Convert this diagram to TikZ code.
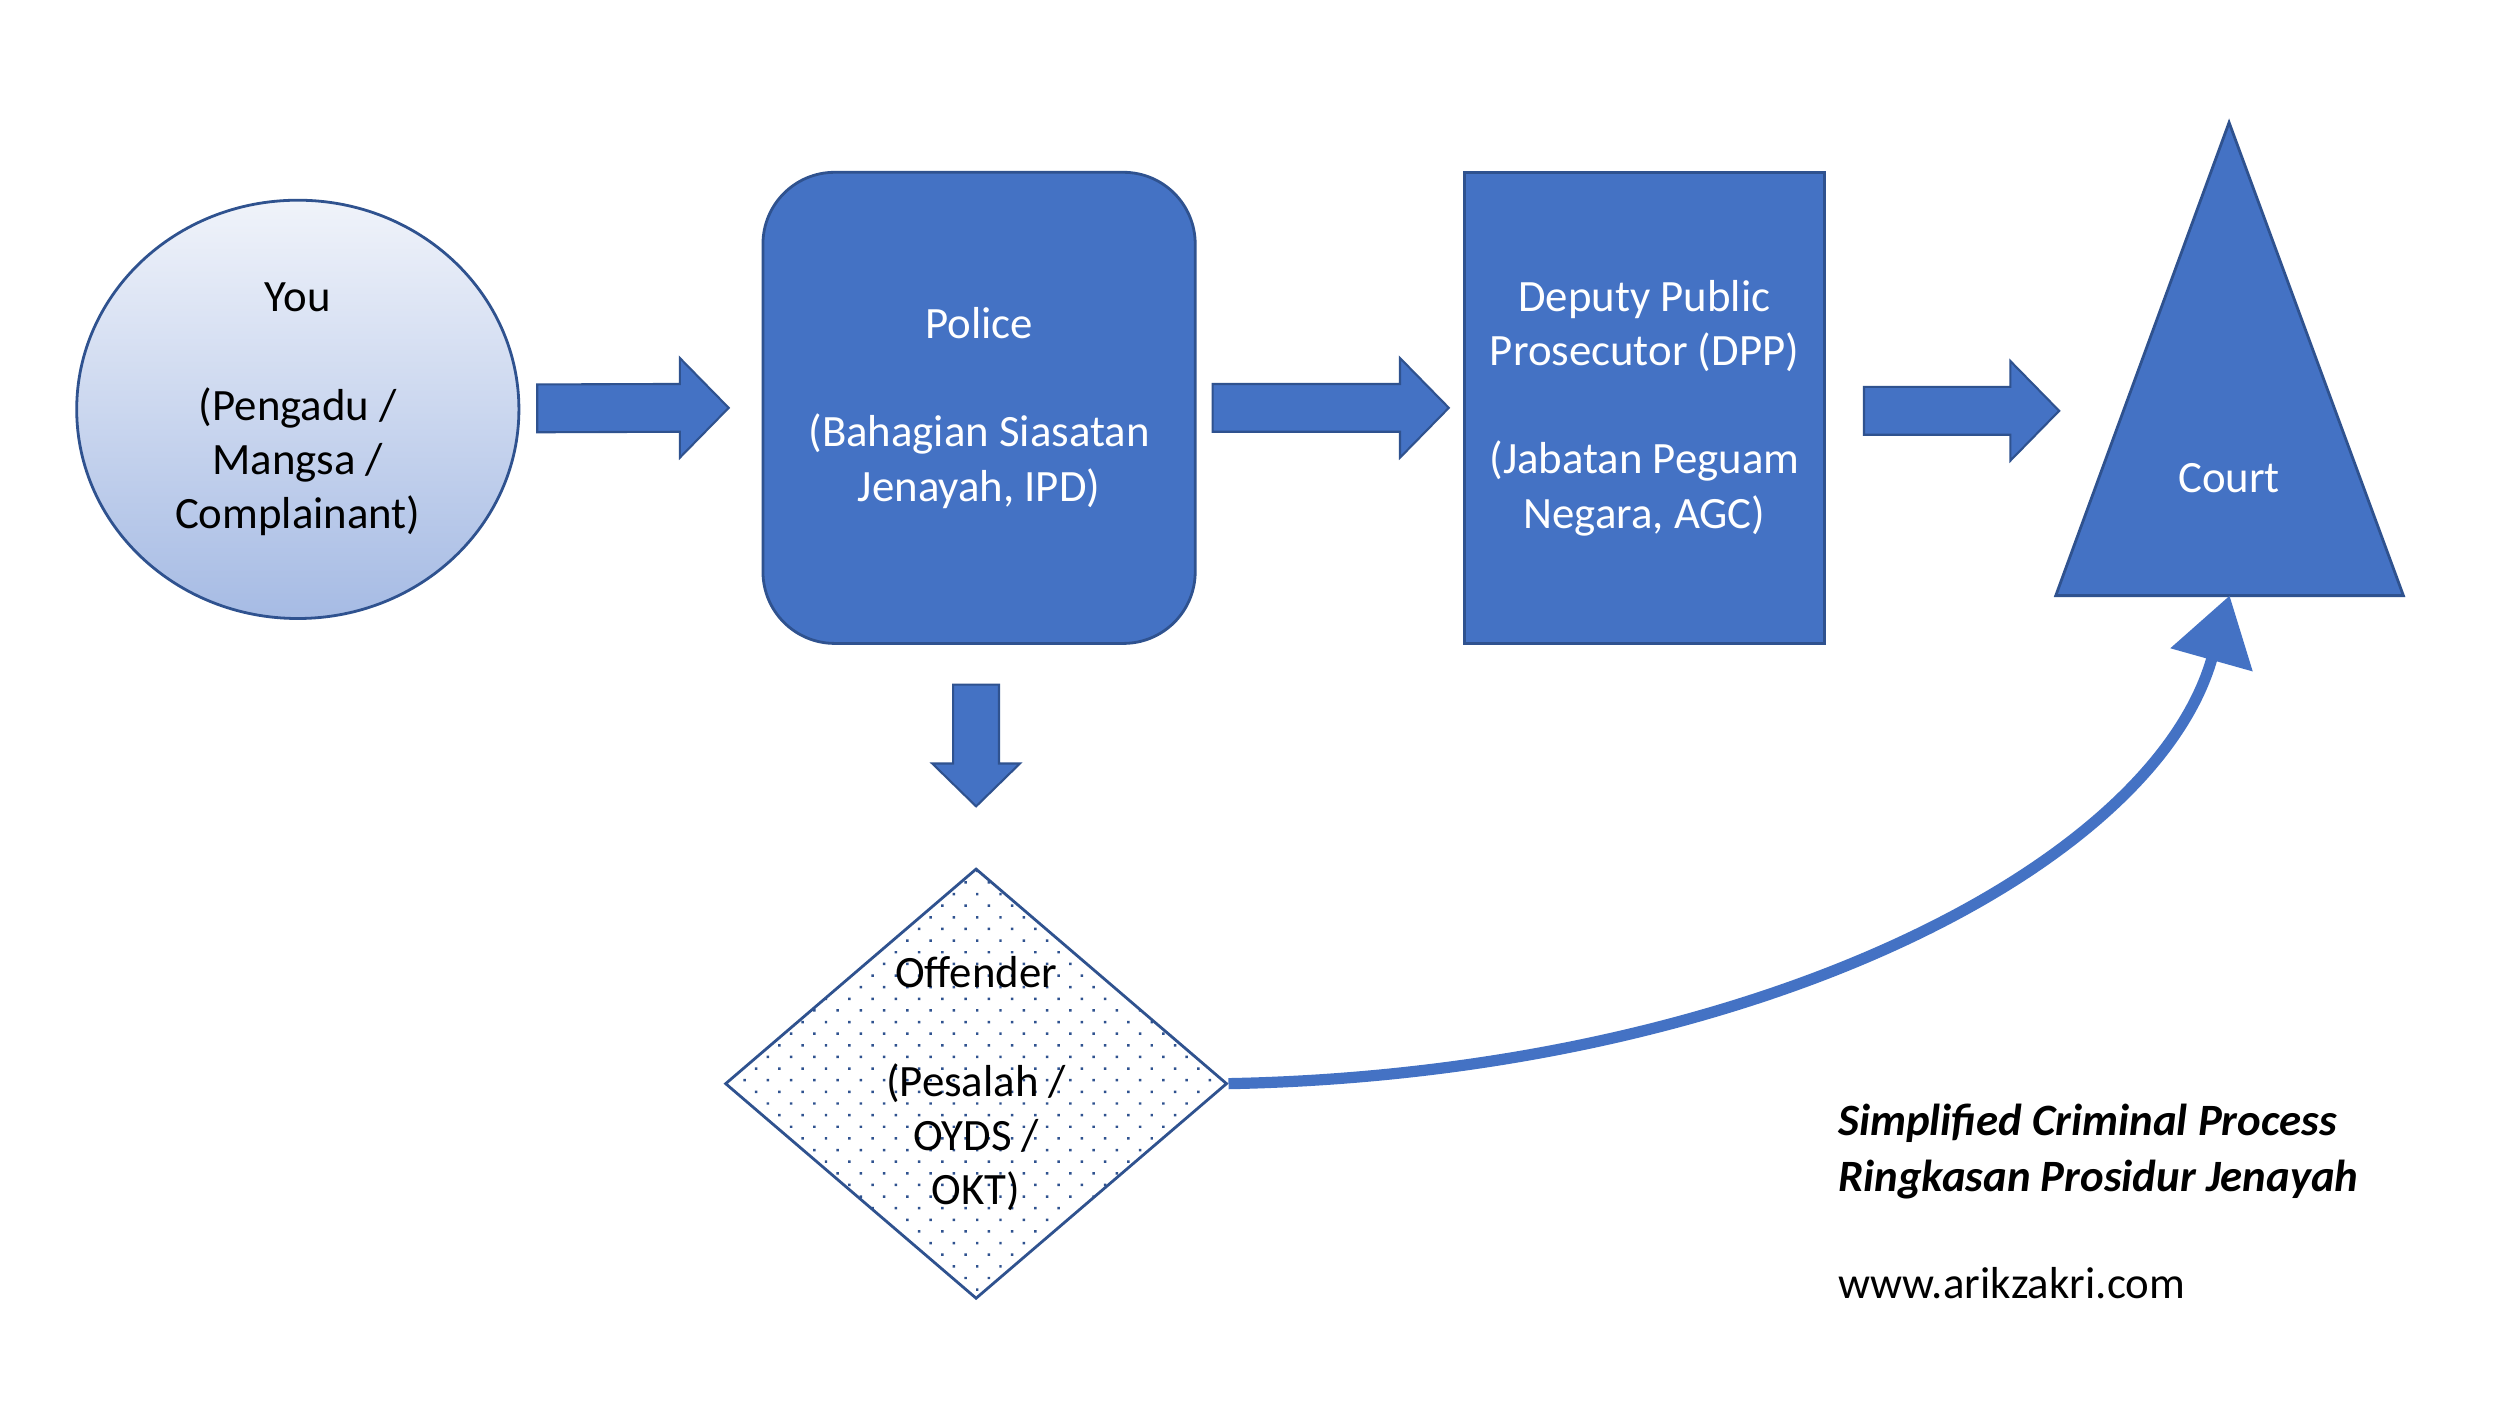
\documentclass[tikz,border=0pt]{standalone}
\usepackage{fontspec}
\setmainfont{Carlito}
\usepackage{tikz}
\usetikzlibrary{calc,shapes.geometric,patterns.meta,arrows.meta}
\definecolor{offblue}{HTML}{4472C4}
\definecolor{edgeblue}{HTML}{2F528F}

\begin{document}
\begin{tikzpicture}[
    txt/.style={font=\fontsize{12.8}{15.5}\selectfont,align=center,inner sep=0},
    blue box/.style={draw=edgeblue,fill=offblue,line width=.8pt,text=white,txt},
    block arrow/.style={draw=edgeblue,fill=offblue,line width=.6pt}]
  \useasboundingbox[fill=white] (0,-.056) rectangle (25.1,14.06);
  % the three offices
  \draw (2.99, 9.95) node [ellipse,draw=edgeblue,line width=.8pt,
      top color={rgb,255:red,240;green,243;blue,250},bottom color={rgb,255:red,166;green,187;blue,228},
      minimum width=4.44cm,minimum height=4.2cm,txt] (you)
      {You\\[15.5pt](Pengadu /\\Mangsa /\\Complainant)};
  \draw (9.83, 9.965) node [rectangle,rounded corners=.72cm,blue box,minimum width=4.34cm,minimum height=4.73cm] (police)
      {Police\\[15.5pt](Bahagian Siasatan\\Jenayah, IPD)};
  \draw (16.51, 9.965) node [rectangle,blue box,minimum width=3.62cm,minimum height=4.73cm] (dpp)
      {Deputy Public\\Prosecutor (DPP)\\[15.5pt](Jabatan Peguam\\Negara, AGC)};
  % court
  \coordinate (ctop) at (22.38, 12.83);
  \coordinate (cl) at (20.64, 8.08);
  \coordinate (cr) at (24.13, 8.08);
  \coordinate (cbase) at ($(cl)!.5!(cr)$);
  \draw[draw=edgeblue,fill=offblue,line width=.8pt] (ctop) -- (cr) -- (cl) -- cycle;
  \node [txt,text=white] (court) at (22.38, 9.26) {Court};
  % offender
  \draw (9.80, 3.18) node [diamond,draw=edgeblue,line width=.8pt,
      pattern={Dots[distance=4.7pt,angle=45,radius=.5pt]},pattern color=edgeblue,
      minimum width=5.04cm,minimum height=4.32cm,inner sep=0] (off) {};
  \node [txt] (offtxt) at (off.center) {Offender\\[15.5pt](Pesalah /\\OYDS /\\OKT)};
  % block arrows
  \coordinate (a1) at ($(you.east)+(.17,.01)$);
  \coordinate (b1) at ($(police.west)+(-.33,0)$);
  \coordinate (a2) at ($(police.east)+(.16,0)$);
  \coordinate (b2) at ($(dpp.west)+(-.14,0)$);
  \coordinate (a3) at ($(dpp.east)+(.38,-.03)$);
  \coordinate (b3) at ($(dpp.east)+(2.34,-.03)$);
  \foreach \s/\e in {a1/b1,a2/b2,a3/b3}
    \draw[block arrow] ($(\s)+(0,.24)$) -- ($(\e)+(-.49,.24)$) -- ($(\e)+(-.49,.5)$) -- (\e)
      -- ($(\e)+(-.49,-.5)$) -- ($(\e)+(-.49,-.24)$) -- ($(\s)+(0,-.24)$) -- cycle;
  \coordinate (a4) at ($(police.south)+(-.03,-.40)$);
  \coordinate (b4) at ($(off.north)+(0,.61)$);
  \draw[block arrow] ($(a4)+(-.23,0)$) -- ($(b4)+(-.23,.43)$) -- ($(b4)+(-.44,.43)$) -- (b4)
    -- ($(b4)+(.44,.43)$) -- ($(b4)+(.23,.43)$) -- ($(a4)+(.23,0)$) -- cycle;
  % offender goes straight to court
  \draw[offblue,line width=3.2pt,-{Triangle[length=6.7mm,width=8.3mm]}]
    (off.east) .. controls +(5.2,.1) and +(-.77,-2.74) .. (cbase);
  % caption
  \node [txt,font=\fontsize{12.8}{15.9}\selectfont\bfseries\itshape,align=left,anchor=west] (title) at (18.45, 2.50)
    {Simplified Criminal Process\\Ringkasan Prosidur Jenayah};
  \node [txt,anchor=west] (url) at (18.45, 1.18) {www.arikzakri.com};
\end{tikzpicture}
\end{document}
